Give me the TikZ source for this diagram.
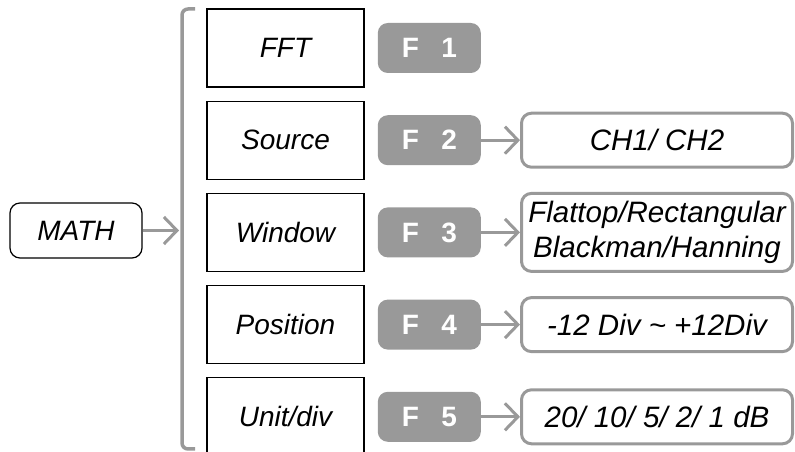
\documentclass[tikz,border=0pt]{standalone}
\usepackage{fontspec}
\setmainfont{Liberation Sans}
\usetikzlibrary{arrows.meta, positioning}
\definecolor{KeyGray}{HTML}{999999}

\begin{document}
\begin{tikzpicture}[x=1pt, y=1pt, >={Straight Barb[length=13pt, width=27pt]},
        node distance=13pt,
        mathlabel/.style={rectangle, draw=black, line width=1.2pt, rounded corners=10pt, minimum width=132pt, minimum height=55pt, font=\fontsize{28}{32}\selectfont\itshape},
        menulabel/.style={rectangle, draw=black, line width=1.2pt, minimum width=157pt, minimum height=78pt, font=\fontsize{28}{32}\selectfont\itshape},
        fkey/.style={rectangle, fill=KeyGray, rounded corners=10pt, minimum width=103pt, minimum height=50pt, text=white, font=\fontsize{28}{32}\selectfont\bfseries},
        choice/.style={rectangle, draw=KeyGray, line width=3pt, fill=white, rounded corners=10pt, minimum width=271pt, minimum height=54pt, inner sep=1pt, align=center, font=\fontsize{29.5}{35}\selectfont\itshape},
        arrow/.style={->, line width=3pt, KeyGray},
        bracket/.style={line width=3.5pt, KeyGray, rounded corners=6pt}]

        \useasboundingbox (0,0) rectangle (795,452);

        \node[mathlabel] (math) at (76,221.5) {MATH};

        \node[menulabel] (fft) at (285.5,404) {FFT};
        \node[menulabel, below=of fft] (source) {Source};
        \node[menulabel, below=of source] (window) {Window};
        \node[menulabel, below=of window] (position) {Position};
        \node[menulabel, below=of position] (unitdiv) {Unit/div};

        \node[fkey, right=of fft] (f1) {F\hspace{0.8em}1};
        \node[fkey, right=of source] (f2) {F\hspace{0.8em}2};
        \node[fkey, right=of window] (f3) {F\hspace{0.8em}3};
        \node[fkey, right=of position] (f4) {F\hspace{0.8em}4};
        \node[fkey, right=of unitdiv] (f5) {F\hspace{0.8em}5};

        \node[choice, right=39pt of f2] (chsel) {CH1/ CH2};
        \node[choice, right=39pt of f3, minimum height=78pt] (winsel) {Flattop/Rectangular\\Blackman/Hanning};
        \node[choice, right=39pt of f4] (possel) {-12 Div \textasciitilde\ +12Div};
        \node[choice, right=39pt of f5] (unitsel) {20/ 10/ 5/ 2/ 1 dB};

        \coordinate (brtop) at (182,443);
        \coordinate (brbot) at (182,3);
        \draw[bracket] ([xshift=13pt]brtop) -- (brtop) -- (brbot) -- ([xshift=13pt]brbot);

        \draw[arrow] (math) -- ([xshift=-3pt]math -| brtop);
        \draw[arrow] (f2) -- (chsel);
        \draw[arrow] (f3) -- (winsel);
        \draw[arrow] (f4) -- (possel);
        \draw[arrow] (f5) -- (unitsel);
    \end{tikzpicture}
\end{document}
